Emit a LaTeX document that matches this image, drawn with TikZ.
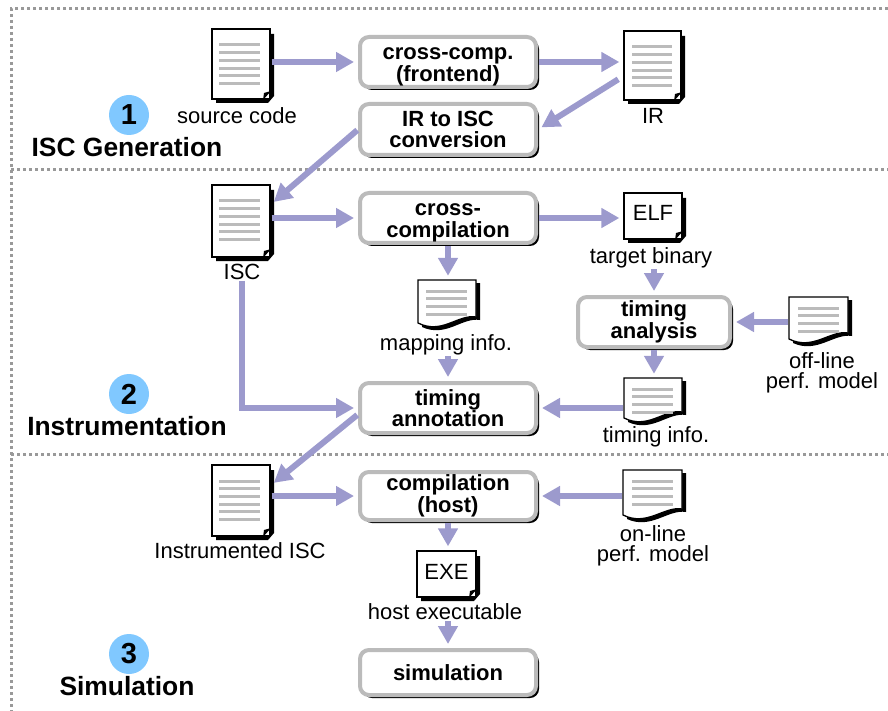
\documentclass[tikz,border=0pt]{standalone}
\usepackage{fontspec}
\setmainfont{Liberation Sans}
\usetikzlibrary{arrows.meta}
\definecolor{flowblue}{HTML}{9C9ACD}
\definecolor{stepgray}{HTML}{BBBBBB}
\definecolor{badgeblue}{HTML}{80C8FF}
\definecolor{sepgray}{HTML}{999999}
\tikzset{
	flow/.style={line width=6pt,color=flowblue,-{Triangle[length=18pt,width=19pt]},shorten >=4pt,shorten <=1pt},
	stepbox/.style={draw=stepgray,line width=4pt,rounded corners=9pt,fill=white,font=\fontsize{22}{21.5}\selectfont\bfseries,inner sep=0pt},
	lbl/.style={font=\fontsize{22}{20}\selectfont,inner sep=0pt},
	phase/.style={font=\fontsize{26.4}{28}\selectfont\bfseries,inner sep=0pt},
	badge/.style={circle,fill=badgeblue,minimum size=40pt,inner sep=0pt,font=\fontsize{29}{30}\selectfont\bfseries},
	sep/.style={color=sepgray,line width=3pt,dash pattern=on 3pt off 3pt},
	textline/.style={color=stepgray,line width=3pt}
}
\newcommand{\twolines}[2]{\vbox{\halign{\hfil##\hfil\cr #1\cr #2\cr}}}
\newcommand{\stepshadow}[4]{\fill[black,rounded corners=9pt] (#1+3,#2+3) rectangle (#3+3,#4+3);}
\newcommand{\foldpage}[5]{
	\fill[black] (#2+4,#3+5) -- (#4+4,#3+5) -- (#4+4,#5-3) -- (#4-2,#5+4) -- (#2+4,#5+4) -- cycle;
	\node[draw,fill=white,line width=1.3pt,inner sep=0pt,minimum width=#4-#2,minimum height=#5-#3] (#1) at ({(#2+#4)/2},{(#3+#5)/2}) {};
	\fill[black] (#4+1,#5-8) -- (#4-6,#5-6) -- (#4-7,#5+1) -- cycle;
}
\newcommand{\wavepage}[5]{
	\fill[black] (#2+4,#3+3) -- (#4+4,#3+3) -- (#4+4,#5-6) .. controls (#4-14,#5-9) and (#2+28,#5+12) .. (#2+4,#5+1) -- cycle;
	\draw[fill=white,line width=1.3pt] (#2,#3) -- (#4,#3) -- (#4,#5-9) .. controls (#4-18,#5-12) and (#2+24,#5+9) .. (#2,#5-3) -- cycle;
	\node[inner sep=0pt,minimum width=#4-#2,minimum height=#5-#3] (#1) at ({(#2+#4)/2},{(#3+#5)/2}) {};
}
\begin{document}
\begin{tikzpicture}[x=1pt,y=-1pt]
	\useasboundingbox (0,0) rectangle (888,711);
	\draw[sep] (888,9) -- (11,9) -- (11,711);
	\draw[sep] (11,170) -- (888,170);
	\draw[sep] (11,454) -- (888,454);

	\foldpage{srcdoc}{212}{29}{270}{99}
	\foldpage{iscdoc}{212}{185}{270}{257}
	\foldpage{instdoc}{212}{465}{270}{536}
	\foldpage{irdoc}{624}{31}{681}{100}
	\foreach \ytop in {45,201,481}
		\foreach \i in {0,...,5}
			\draw[textline] (219,\ytop+\i*7.7) -- (260,\ytop+\i*7.7);
	\foreach \i in {0,...,5}
		\draw[textline] (632,47+\i*7.7) -- (672,47+\i*7.7);

	\foldpage{elfdoc}{624}{193}{682}{239}
	\foldpage{exedoc}{417}{551}{476}{597}
	\node[lbl] (elftxt) at ([yshift=3pt]elfdoc) {ELF};
	\node[lbl] (exetxt) at ([yshift=2pt]exedoc) {EXE};

	\wavepage{mapdoc}{418}{280}{476}{326}
	\wavepage{offdoc}{789}{297}{848}{342}
	\wavepage{timdoc}{624}{378}{682}{421}
	\wavepage{ondoc}{623}{470}{682}{518}
	\foreach \xa/\xb/\ytop in {426/467/291,798/839/308,632/673/389,632/673/481}
		\foreach \i in {0,...,3}
			\draw[textline] (\xa,\ytop+\i*7.7) -- (\xb,\ytop+\i*7.7);

	\stepshadow{360}{37}{536}{87}
	\stepshadow{360}{104}{536}{155}
	\stepshadow{360}{193}{536}{243}
	\stepshadow{360}{383}{536}{433}
	\stepshadow{360}{472}{536}{520}
	\stepshadow{360}{650}{536}{695}
	\stepshadow{578}{297}{730}{347}
	\node[stepbox,minimum width=176pt,minimum height=50pt] (crossfe) at (448,62) {\twolines{\rule{0pt}{22pt}cross-comp.}{(frontend)}};
	\node[stepbox,minimum width=176pt,minimum height=51pt] (irisc) at (448,129.5) {\twolines{IR to ISC}{conversion}};
	\node[stepbox,minimum width=176pt,minimum height=50pt] (crosscomp) at (448,218) {\twolines{\rule{0pt}{22pt}cross-}{compilation}};
	\node[stepbox,minimum width=176pt,minimum height=50pt] (annot) at (448,408) {\twolines{timing}{annotation}};
	\node[stepbox,minimum width=176pt,minimum height=48pt] (hostcomp) at (448,496) {\twolines{compilation}{(host)}};
	\node[stepbox,minimum width=176pt,minimum height=45pt] (sim) at (448,672.5) {simulation};
	\node[stepbox,minimum width=152pt,minimum height=50pt] (analysis) at (654,322) {\twolines{timing}{analysis}};

	\node[lbl] (srclbl) at (237,116) {source code};
	\node[lbl] (irlbl) at (653,116) {IR};
	\node[lbl] (isclbl) at (242,272) {ISC};
	\node[lbl] (elflbl) at (651,258) {target binary};
	\node[lbl] (maplbl) at (446,345) {mapping info.};
	\node[lbl] (offlbl) at (822,373) {\twolines{off-line}{perf. model}};
	\node[lbl] (timlbl) at (656,437) {timing info.};
	\node[lbl] (instlbl) at (240,551) {Instrumented ISC};
	\node[lbl] (onlbl) at (653,546) {\twolines{on-line}{perf. model}};
	\node[lbl] (exelbl) at (445,612) {host executable};

	\node[badge] (one) at (129,115) {1};
	\node[badge] (two) at (129,394) {2};
	\node[badge] (three) at (129,654) {3};
	\node[phase] (genlbl) at (127,147) {ISC Generation};
	\node[phase] (instrlbl) at (127,426) {Instrumentation};
	\node[phase] (simlbl) at (127,686) {Simulation};

	\draw[flow] (srcdoc.east |- crossfe.west) to (crossfe.west);
	\draw[flow] (crossfe.east) to (irdoc.west |- crossfe.east);
	\draw[flow,shorten <=6pt] (irdoc.200) to (irisc.east);
	\draw[flow] (irisc.west) to (iscdoc.29);
	\draw[flow] (iscdoc.east |- crosscomp.west) to (crosscomp.west);
	\draw[flow] (crosscomp.east) to (elfdoc.west |- crosscomp.east);
	\draw[flow] (crosscomp.south) to (mapdoc.north -| crosscomp.south);
	\draw[flow] (maplbl.south -| annot.north) to (annot.north);
	\draw[flow] (isclbl.south) -- (annot.west -| isclbl.south) -- (annot.west);
	\draw[flow] (elflbl.south -| analysis.north) to (analysis.north);
	\draw[flow] (offdoc.west |- analysis.east) to (analysis.east);
	\draw[flow] (analysis.south) to (timdoc.north -| analysis.south);
	\draw[flow] (timdoc.west |- annot.east) to (annot.east);
	\draw[flow] (annot.-176) to (instdoc.27);
	\draw[flow] (instdoc.east |- hostcomp.west) to (hostcomp.west);
	\draw[flow] (ondoc.west |- hostcomp.east) to (hostcomp.east);
	\draw[flow] (hostcomp.south) to (exedoc.north -| hostcomp.south);
	\draw[flow] (exelbl.south -| sim.north) to (sim.north);
\end{tikzpicture}
\end{document}
